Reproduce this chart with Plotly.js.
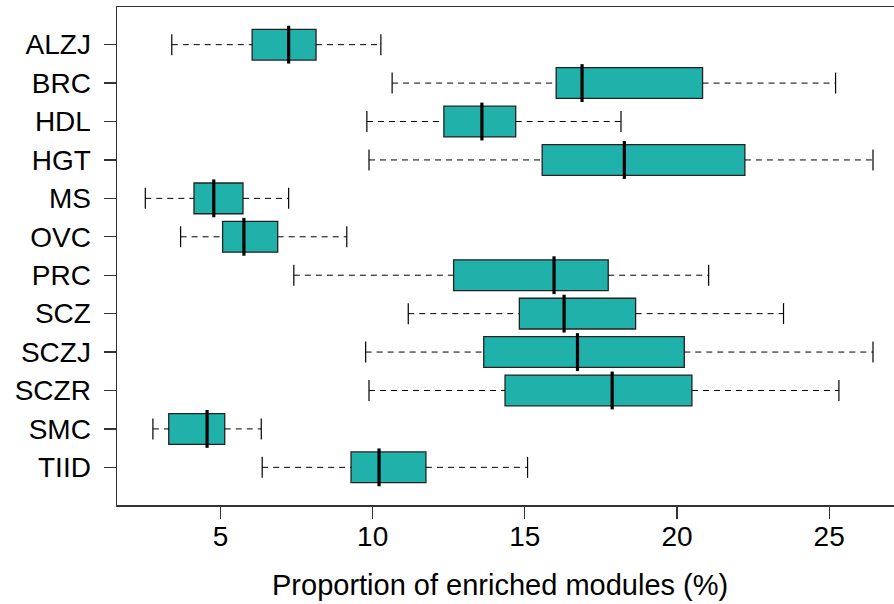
<!DOCTYPE html>
<html>
<head>
<meta charset="utf-8">
<script src="https://cdn.plot.ly/plotly-3.0.1.min.js"></script>
<style>html,body{margin:0;padding:0;background:#fff;}#chart{width:894px;height:604px;}</style>
</head>
<body>
<div id="chart"></div>
<script>
const categories = ["ALZJ","BRC","HDL","HGT","MS","OVC","PRC","SCZ","SCZJ","SCZR","SMC","TIID"];
const lowerWhisker = [3.40, 10.64, 9.81, 9.88, 2.53, 3.69, 7.41, 11.17, 9.77, 9.88, 2.78, 6.37];
const q1Values     = [6.04, 16.03, 12.34, 15.57, 4.13, 5.07, 12.66, 14.82, 13.65, 14.35, 3.30, 9.29];
const medianValues = [7.24, 16.88, 13.59, 18.27, 4.78, 5.77, 15.96, 16.29, 16.73, 17.87, 4.56, 10.21];
const q3Values     = [8.14, 20.84, 14.70, 22.23, 5.74, 6.88, 17.74, 18.64, 20.24, 20.49, 5.14, 11.75];
const upperWhisker = [10.27, 25.21, 18.16, 26.44, 7.24, 9.15, 21.04, 23.50, 26.44, 25.32, 6.34, 15.09];
const xTicks = [5, 10, 15, 20, 25];
const xTitle = "Proportion of enriched modules (%)";

const FONT = "Liberation Sans, Arial, Helvetica, sans-serif";
const FILL = "#20B2AA";

// dashed whisker segments
const wx = [], wy = [];
categories.forEach((c, i) => {
  wx.push(lowerWhisker[i], q1Values[i], null, q3Values[i], upperWhisker[i], null);
  wy.push(c, c, null, c, c, null);
});

const traces = [
  {
    type: "scatter", mode: "lines", x: wx, y: wy,
    line: {color: "#000", width: 1, dash: "6px,5px"},
    hoverinfo: "skip", showlegend: false, connectgaps: false
  },
  {
    type: "box", orientation: "h", y: categories,
    q1: q1Values, median: medianValues, q3: q3Values,
    lowerfence: q1Values, upperfence: q3Values,
    width: 0.8, whiskerwidth: 0,
    fillcolor: FILL, line: {color: "#222", width: 1.3},
    boxpoints: false, hoverinfo: "skip", showlegend: false
  },
  {
    type: "scatter", mode: "markers",
    x: lowerWhisker.concat(upperWhisker), y: categories.concat(categories),
    marker: {symbol: "line-ns-open", size: 15, color: "#000", line: {color: "#000", width: 1.2}},
    hoverinfo: "skip", showlegend: false
  },
  {
    type: "scatter", mode: "markers", x: medianValues, y: categories,
    marker: {symbol: "line-ns-open", size: 27, color: "#000", line: {color: "#000", width: 3.2}},
    hoverinfo: "skip", showlegend: false
  }
];

const layout = {
  width: 894, height: 604,
  margin: {l: 117, r: 0, t: 7, b: 99},
  paper_bgcolor: "#fff", plot_bgcolor: "#fff",
  font: {family: FONT, color: "#000", size: 28},
  showlegend: false,
  xaxis: {
    range: [1.6, 27.13], tickvals: xTicks, ticktext: xTicks.map(String),
    ticks: "outside", ticklen: 12, tickwidth: 1.2, tickcolor: "#333",
    showline: true, mirror: true, linecolor: "#333", linewidth: 1.5,
    showgrid: false, zeroline: false,
    tickfont: {family: FONT, size: 28, color: "#000"},
    ticklabelstandoff: -6,
    automargin: false, fixedrange: true
  },
  yaxis: {
    type: "category", categoryorder: "array", categoryarray: categories,
    range: [11.98, -0.98],
    ticks: "outside", ticklen: 12, tickwidth: 1.2, tickcolor: "#333",
    showline: true, mirror: false, linecolor: "#333", linewidth: 1.5,
    showgrid: false, zeroline: false,
    tickfont: {family: FONT, size: 28, color: "#000"},
    ticklabelstandoff: 7,
    automargin: false, fixedrange: true
  },
  annotations: [{
    text: xTitle, xref: "paper", yref: "paper",
    x: (499.5 - 117) / 777, y: -(585 - 505) / 498,
    xanchor: "center", yanchor: "middle", showarrow: false,
    font: {family: FONT, size: 29, color: "#000"}
  }]
};

Plotly.newPlot("chart", traces, layout, {staticPlot: true, displayModeBar: false});
</script>
</body>
</html>
